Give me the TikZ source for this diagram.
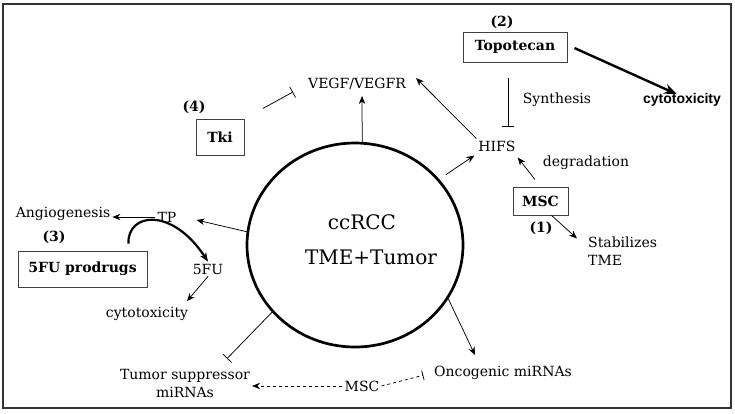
\documentclass[tikz,border=0pt]{standalone}
\usepackage{fontspec}
\setmainfont{DejaVu Serif}
\newfontfamily\sansb{Liberation Sans}
\usetikzlibrary{shapes.geometric,arrows.meta,calc}
\begin{document}
\begin{tikzpicture}[x=1pt,y=-1pt,
  lbl/.style={font=\fontsize{14}{18}\selectfont, inner sep=2pt},
  bl/.style={font=\fontsize{14}{18}\selectfont\bfseries, inner sep=2pt},
  boxn/.style 2 args={draw=black!75, line width=0.8pt, font=\fontsize{14}{18}\selectfont\bfseries, inner sep=0pt, minimum width=#1, minimum height=#2},
  arr/.style={-{Stealth[length=8pt,width=6.5pt]}, line width=0.75pt},
  inh/.style={-{Bar[width=12pt,line width=0.75pt]}, line width=0.75pt},
]
\useasboundingbox (0,0) rectangle (735,413);
\fill[white] (0,0) rectangle (735,413);
\draw[line width=2pt, black!80] (3,4) rectangle (731,408);

% central tumour
\node[ellipse, draw, line width=2.7pt, minimum width=216pt, minimum height=204pt, inner sep=0pt] (tum) at (355,245) {};
\node[font=\fontsize{20}{24}\selectfont] (cc) at (362,222) {ccRCC};
\node[font=\fontsize{20}{24}\selectfont] (tme) at (371,257) {TME+Tumor};

% top
\node[lbl] (vegf) at (357,84) {VEGF/VEGFR};
\node[bl] (n4) at (194,107) {(4)};
\node[boxn={48pt}{36pt}] (tki) at (220,137) {Tki};
\node[bl] (n2) at (502,22) {(2)};
\node[boxn={104pt}{30pt}] (topo) at (515,47) {Topotecan};
\node[font=\fontsize{14}{16}\sansb\bfseries, inner sep=2pt] (cyto1) at (682,100) {cytotoxicity};
\node[lbl] (synth) at (557,100) {Synthesis};
\node[lbl] (hifs) at (497,146) {HIFS};
\node[lbl] (degr) at (586,163) {degradation};
\node[boxn={55pt}{28pt}] (msc) at (540.5,201) {MSC};
\node[bl] (n1) at (541,228) {(1)};
\node[lbl, align=left, anchor=west] (stab) at (586,251) {Stabilizes\\TME};

% bottom
\node[lbl] (onc) at (503,373) {Oncogenic miRNAs};
\node[lbl] (msc2) at (362,386) {MSC};
\node[lbl, align=center] (tsup) at (185,383) {Tumor suppressor\\miRNAs};

% left
\node[lbl] (tp) at (167,217) {TP};
\node[lbl] (ang) at (63,214) {Angiogenesis};
\node[bl] (n3) at (54,237) {(3)};
\node[boxn={129pt}{36pt}] (pro) at (82.5,269) {5FU prodrugs};
\node[lbl] (fu) at (208,269) {5FU};
\node[lbl] (cyto2) at (147,314) {cytotoxicity};

% connectors
\draw[arr] (tum.86) -- ($(vegf.south)+(5,4)$);
\draw[inh, shorten <=21pt] (tki.north east) -- ($(vegf.west)+(-13,8)$);
\draw[arr] (hifs.north west) -- ($(vegf.east)+(8,-6)$);
\draw[-{Stealth[length=13pt,width=10pt]}, line width=2.4pt] ($(topo.east)+(7,1)$) -- ($(cyto1.north)+(-5,3)$);
\draw[inh] ($(topo.south)+(-7,16)$) -- ($(hifs.north)+(11,-12)$);
\draw[arr, shorten <=8pt] (tum.38) -- ($(hifs.south west)+(-2,2)$);
\draw[arr, shorten <=9pt] (msc.north) -- ($(hifs.south east)+(0,4)$);
\draw[arr] ($(msc.south)+(11,0)$) -- ($(stab.north west)+(-9,4)$);
\draw[arr] (tum.-30) -- ($(onc.north)+(-28,-9)$);
\draw[inh] (tum.219) -- ($(tsup.north)+(42,-8)$);
\draw[arr, dashed] (msc2.west) -- (tsup.east |- msc2.west);
\draw[inh, dashed, shorten >=9pt, -{Bar[width=10pt,line width=0.75pt]}] (msc2.east) -- (onc.west);
\draw[arr] (tp.west) -- (tp.west -| ang.east);
\draw[arr] (tum.173) -- ($(tp.east)+(18,3)$);
\draw[-{Stealth[length=9pt,width=7pt]}, line width=2.2pt] ($(pro.north east)+(-19,-7)$) .. controls ($(pro.north east)+(-20,-38)$) and ($(fu.north)+(-36,-55)$) .. (fu.north);
\draw[arr] (fu.south) -- ($(cyto2.north)+(40,-4)$);
\end{tikzpicture}
\end{document}
